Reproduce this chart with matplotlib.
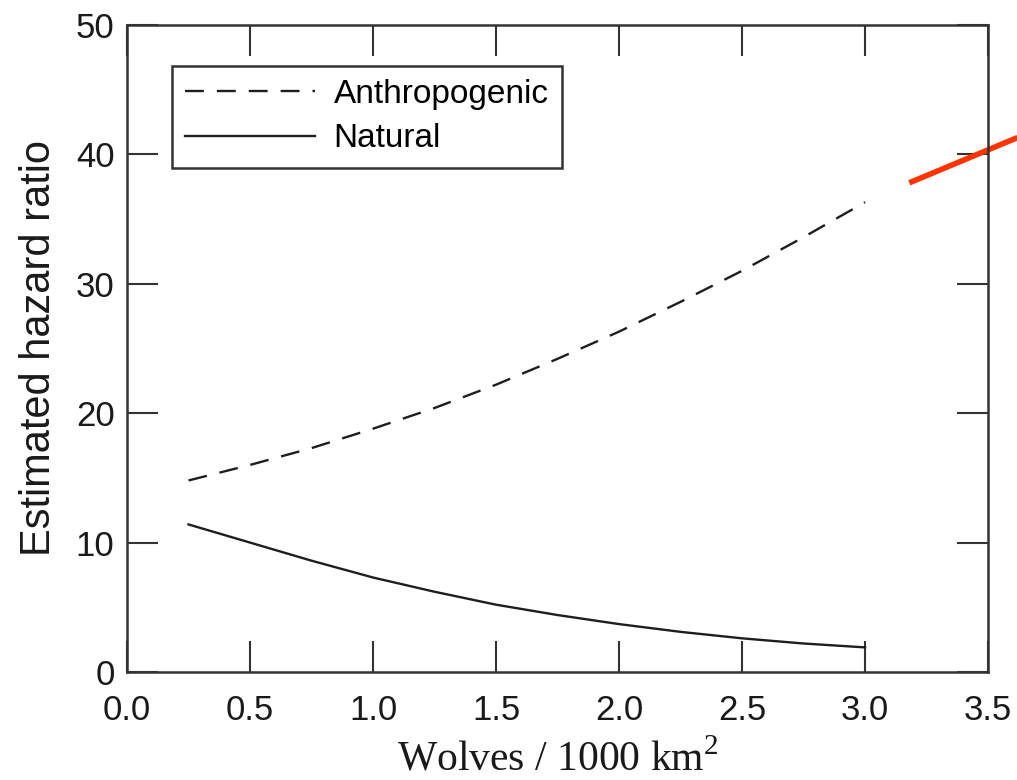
import numpy as np
import matplotlib
matplotlib.use('Agg')
import matplotlib.pyplot as plt

# valores
x_anthro = [0.25, 0.5, 0.75, 1.0, 1.25, 1.5, 1.75, 2.0, 2.25, 2.5, 2.75, 3.0]
y_anthro = [14.8, 16.0, 17.3, 18.8, 20.4, 22.2, 24.2, 26.3, 28.6, 31.0, 33.6, 36.3]
x_natural = [0.25, 0.5, 0.75, 1.0, 1.25, 1.5, 1.75, 2.0, 2.25, 2.5, 2.75, 3.0]
y_natural = [11.4, 10.0, 8.6, 7.3, 6.2, 5.2, 4.4, 3.7, 3.1, 2.6, 2.2, 1.9]
x_rojo = [3.18, 3.62]
y_rojo = [37.8, 41.3]

x_ticks = [0.0, 0.5, 1.0, 1.5, 2.0, 2.5, 3.0, 3.5]
y_ticks = [0, 10, 20, 30, 40, 50]

plt.rcParams['font.family'] = ['Liberation Sans', 'DejaVu Sans']
plt.rcParams['mathtext.fontset'] = 'custom'
plt.rcParams['mathtext.rm'] = 'Liberation Serif'

fig = plt.figure(figsize=(10.17, 7.8), dpi=100)
ax = fig.add_axes([0.1249, 0.1385, 0.8466, 0.8295])

ax.plot(x_anthro, y_anthro, color='#1e1e1e', lw=1.7, ls=(0, (8, 5.5)), label='Anthropogenic')
ax.plot(x_natural, y_natural, color='#1e1e1e', lw=1.7, ls='-', label='Natural')
ax.plot(x_rojo, y_rojo, color='#ff3300', lw=4, clip_on=False, solid_capstyle='butt')

ax.set_xlim(0, 3.5)
ax.set_ylim(0, 50)
ax.set_xticks(x_ticks)
ax.set_yticks(y_ticks)
ax.set_xticklabels([f'{v:.1f}' for v in x_ticks])
ax.tick_params(direction='in', length=22, width=1.5, color='#333333',
               top=True, right=True, labelsize=25, pad=9, labelcolor='#1a1a1a')
ax.tick_params(axis='x', pad=16)
for s in ax.spines.values():
    s.set_linewidth(1.8)
    s.set_color('#333333')

ax.set_ylabel('Estimated hazard ratio', fontsize=30, color='#1a1a1a', labelpad=12)
ax.set_xlabel('Wolves / 1000 km$^\\mathrm{2}$', fontsize=30, family='Liberation Serif',
              color='#1a1a1a', labelpad=9)

leg = ax.legend(loc='upper left', bbox_to_anchor=(0.052, 0.937), fontsize=24,
                fancybox=False, edgecolor='#333333', framealpha=1, borderaxespad=0,
                handlelength=3.9, borderpad=0.4, labelspacing=0.4, handletextpad=0.55)
leg.get_frame().set_linewidth(1.8)

fig.savefig('out.png', dpi=100)
